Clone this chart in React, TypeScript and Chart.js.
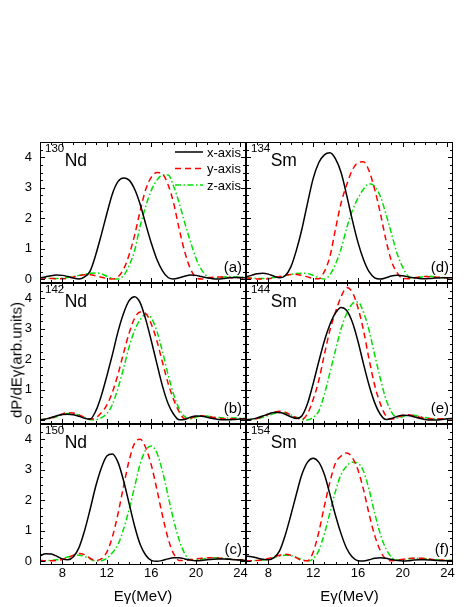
import React, { useEffect, useRef } from 'react';
import { Chart, registerables } from 'chart.js';

Chart.register(...registerables);

// ---------------- data ----------------
const energies = [6, 6.5, 7, 7.5, 8, 8.5, 9, 9.5, 10, 10.5, 11, 11.5, 12, 12.5, 13, 13.5, 14, 14.5, 15, 15.5, 16, 16.5, 17, 17.5, 18, 18.5, 19, 19.5, 20, 20.5, 21, 21.5, 22, 22.5, 23, 23.5, 24, 24.5];

const xTicks = [8, 12, 16, 20, 24];
const yTicks = [0, 1, 2, 3, 4];
const seriesNames = ['x-axis', 'y-axis', 'z-axis'];

// 130Nd (a)
const nd130X = [0.05, 0.08, 0.12, 0.14, 0.13, 0.09, 0.04, 0.01, 0.08, 0.27, 0.8, 1.45, 2.15, 2.8, 3.2, 3.32, 3.25, 2.95, 2.45, 1.8, 1.18, 0.65, 0.28, 0.06, 0.01, 0.05, 0.1, 0.14, 0.13, 0.09, 0.05, 0.02, 0.01, 0.03, 0.05, 0.06, 0.06, 0.05];
const nd130Y = [0.05, 0.04, 0.03, 0.02, 0.02, 0.04, 0.08, 0.12, 0.15, 0.15, 0.12, 0.07, 0.03, 0.01, 0.08, 0.33, 0.8, 1.45, 2.25, 2.95, 3.35, 3.5, 3.45, 3.1, 2.5, 1.65, 0.9, 0.35, 0.06, 0.01, 0.04, 0.07, 0.08, 0.07, 0.06, 0.05, 0.05, 0.04];
const nd130Z = [0.05, 0.04, 0.03, 0.03, 0.04, 0.06, 0.09, 0.13, 0.17, 0.2, 0.21, 0.18, 0.1, 0.03, 0.01, 0.12, 0.45, 0.95, 1.75, 2.4, 2.92, 3.25, 3.42, 3.42, 3.05, 2.5, 1.85, 1.25, 0.7, 0.32, 0.1, 0.04, 0.05, 0.08, 0.09, 0.08, 0.07, 0.06];

// 142Nd (b)
const nd142X = [0.01, 0.04, 0.09, 0.15, 0.19, 0.2, 0.18, 0.13, 0.07, 0.04, 0.3, 0.8, 1.45, 2.15, 2.9, 3.5, 3.92, 4.05, 3.85, 3.3, 2.6, 1.85, 1.12, 0.55, 0.2, 0.02, 0.03, 0.1, 0.14, 0.13, 0.1, 0.06, 0.03, 0.02, 0.02, 0.03, 0.04, 0.05];
const nd142Y = [0.02, 0.04, 0.08, 0.14, 0.21, 0.25, 0.24, 0.18, 0.1, 0.04, 0.08, 0.25, 0.5, 0.92, 1.5, 2.2, 2.85, 3.35, 3.55, 3.5, 3.15, 2.6, 1.9, 1.22, 0.68, 0.28, 0.05, 0.06, 0.13, 0.15, 0.13, 0.1, 0.07, 0.05, 0.05, 0.05, 0.05, 0.05];
const nd142Z = [0.02, 0.04, 0.07, 0.12, 0.18, 0.22, 0.22, 0.17, 0.09, 0.02, 0.02, 0.08, 0.22, 0.52, 1.05, 1.7, 2.4, 2.95, 3.3, 3.47, 3.35, 2.92, 2.25, 1.5, 0.85, 0.38, 0.12, 0.05, 0.1, 0.15, 0.14, 0.11, 0.09, 0.08, 0.08, 0.08, 0.07, 0.07];

// 150Nd (c)
const nd150X = [0.18, 0.25, 0.24, 0.17, 0.08, 0.05, 0.15, 0.45, 1.0, 1.7, 2.45, 3.05, 3.45, 3.52, 3.25, 2.65, 1.9, 1.15, 0.55, 0.2, 0.03, 0.0, 0.03, 0.08, 0.12, 0.12, 0.08, 0.04, 0.02, 0.03, 0.05, 0.07, 0.08, 0.08, 0.07, 0.05, 0.04, 0.03];
const nd150Y = [0.03, 0.02, 0.02, 0.03, 0.06, 0.12, 0.2, 0.26, 0.22, 0.1, 0.03, 0.08, 0.3, 0.8, 1.55, 2.45, 3.3, 3.88, 4.0, 3.72, 3.15, 2.35, 1.5, 0.75, 0.25, 0.03, 0.03, 0.06, 0.08, 0.1, 0.11, 0.12, 0.11, 0.09, 0.07, 0.06, 0.05, 0.05];
const nd150Z = [0.02, 0.02, 0.03, 0.05, 0.09, 0.14, 0.19, 0.2, 0.16, 0.08, 0.01, 0.02, 0.1, 0.28, 0.55, 1.05, 1.7, 2.45, 3.2, 3.65, 3.78, 3.55, 2.95, 2.15, 1.35, 0.7, 0.25, 0.05, 0.04, 0.07, 0.1, 0.12, 0.12, 0.1, 0.08, 0.06, 0.05, 0.05];

// 134Sm (d)
const sm134X = [0.08, 0.13, 0.18, 0.2, 0.17, 0.1, 0.05, 0.12, 0.4, 0.95, 1.65, 2.5, 3.3, 3.82, 4.08, 4.15, 3.95, 3.5, 2.75, 1.95, 1.22, 0.65, 0.25, 0.05, 0.01, 0.05, 0.11, 0.13, 0.12, 0.08, 0.05, 0.03, 0.02, 0.03, 0.04, 0.05, 0.05, 0.05];
const sm134Y = [0.05, 0.03, 0.01, 0.01, 0.02, 0.05, 0.09, 0.13, 0.16, 0.16, 0.13, 0.08, 0.03, 0.02, 0.25, 0.75, 1.65, 2.5, 3.1, 3.58, 3.82, 3.85, 3.55, 2.95, 2.18, 1.3, 0.6, 0.22, 0.03, 0.02, 0.05, 0.08, 0.09, 0.08, 0.07, 0.06, 0.05, 0.04];
const sm134Z = [0.05, 0.04, 0.03, 0.03, 0.04, 0.06, 0.09, 0.12, 0.16, 0.19, 0.2, 0.19, 0.13, 0.05, 0.01, 0.15, 0.5, 1.0, 1.68, 2.25, 2.65, 2.95, 3.13, 3.05, 2.72, 2.15, 1.5, 0.85, 0.4, 0.1, 0.03, 0.06, 0.1, 0.1, 0.08, 0.06, 0.05, 0.05];

// 144Sm (e)
const sm144X = [0.02, 0.04, 0.08, 0.14, 0.21, 0.26, 0.26, 0.2, 0.12, 0.06, 0.15, 0.55, 1.2, 1.92, 2.6, 3.14, 3.52, 3.7, 3.6, 3.22, 2.6, 1.85, 1.15, 0.58, 0.2, 0.03, 0.06, 0.13, 0.17, 0.16, 0.12, 0.07, 0.03, 0.01, 0.01, 0.03, 0.05, 0.06];
const sm144Y = [0.02, 0.03, 0.06, 0.12, 0.2, 0.27, 0.3, 0.27, 0.18, 0.08, 0.03, 0.22, 0.68, 1.3, 2.15, 2.95, 3.55, 4.05, 4.35, 4.2, 3.7, 2.95, 2.0, 1.15, 0.55, 0.15, 0.04, 0.09, 0.16, 0.18, 0.15, 0.1, 0.07, 0.05, 0.04, 0.05, 0.05, 0.05];
const sm144Z = [0.02, 0.03, 0.05, 0.1, 0.16, 0.22, 0.25, 0.24, 0.18, 0.1, 0.03, 0.01, 0.1, 0.3, 0.85, 1.56, 2.3, 3.0, 3.5, 3.82, 3.88, 3.55, 2.95, 2.15, 1.38, 0.7, 0.28, 0.08, 0.12, 0.18, 0.17, 0.13, 0.09, 0.06, 0.05, 0.05, 0.05, 0.05];

// 154Sm (f)
const sm154X = [0.17, 0.15, 0.11, 0.07, 0.05, 0.12, 0.34, 0.85, 1.5, 2.2, 2.85, 3.25, 3.38, 3.25, 2.85, 2.2, 1.5, 0.9, 0.42, 0.14, 0.02, 0.01, 0.05, 0.1, 0.12, 0.1, 0.06, 0.03, 0.01, 0.02, 0.04, 0.05, 0.05, 0.04, 0.03, 0.02, 0.02, 0.02];
const sm154Y = [0.02, 0.02, 0.03, 0.05, 0.09, 0.15, 0.2, 0.23, 0.2, 0.12, 0.03, 0.02, 0.3, 0.95, 1.8, 2.6, 3.22, 3.45, 3.55, 3.4, 3.0, 2.35, 1.55, 0.85, 0.35, 0.07, 0.02, 0.04, 0.07, 0.09, 0.1, 0.1, 0.09, 0.07, 0.05, 0.04, 0.03, 0.03];
const sm154Z = [0.02, 0.02, 0.03, 0.04, 0.07, 0.12, 0.17, 0.2, 0.19, 0.13, 0.06, 0.01, 0.08, 0.35, 0.9, 1.59, 2.3, 2.85, 3.12, 3.25, 3.22, 2.95, 2.35, 1.58, 0.9, 0.42, 0.14, 0.04, 0.05, 0.08, 0.1, 0.1, 0.09, 0.07, 0.05, 0.04, 0.03, 0.03];

// ---------------- layout / style ----------------
const W = 469;
const H = 607;
const COLS = [[40, 246], [246, 453]];
const ROWS = [[142, 283], [283, 424], [424, 565]];
const Y_AXIS_W = 40;
const X_AXIS_H = 42;
const X_MIN = 6;
const X_MAX = 24.5;
const Y_MIN = -0.12;
const Y_MAX = 4.5;
const FONT = '"Liberation Sans", Arial, Helvetica, sans-serif';

const STYLES = [
  { color: '#000000', dash: [] as number[] },
  { color: '#ff0000', dash: [6, 4] },
  { color: '#00e000', dash: [6, 2.5, 1.5, 2.5] },
];

type PanelDef = {
  tag: string; mass: string; el: string; col: number; row: number;
  series: number[][]; legend: boolean;
};

const panels: PanelDef[] = [
  { tag: '(a)', mass: '130', el: 'Nd', col: 0, row: 0, series: [nd130X, nd130Y, nd130Z], legend: true },
  { tag: '(b)', mass: '142', el: 'Nd', col: 0, row: 1, series: [nd142X, nd142Y, nd142Z], legend: false },
  { tag: '(c)', mass: '150', el: 'Nd', col: 0, row: 2, series: [nd150X, nd150Y, nd150Z], legend: false },
  { tag: '(d)', mass: '134', el: 'Sm', col: 1, row: 0, series: [sm134X, sm134Y, sm134Z], legend: false },
  { tag: '(e)', mass: '144', el: 'Sm', col: 1, row: 1, series: [sm144X, sm144Y, sm144Z], legend: false },
  { tag: '(f)', mass: '154', el: 'Sm', col: 1, row: 2, series: [sm154X, sm154Y, sm154Z], legend: false },
];

function makePlugin(p: PanelDef) {
  return {
    id: 'panelDecor',
    afterDraw(chart: any) {
      const { ctx, chartArea: a, scales } = chart;
      const xs = scales.x;
      const ys = scales.y;
      ctx.save();
      ctx.strokeStyle = '#000';
      ctx.lineWidth = 1;
      ctx.setLineDash([]);
      // frame
      ctx.strokeRect(a.left + 0.5, a.top + 0.5, a.right - a.left - 1, a.bottom - a.top - 1);
      // ticks on all four sides, pointing inward
      ctx.beginPath();
      for (let v = 6; v <= 24; v += 1) {
        const major = xTicks.includes(v);
        const len = major ? 5 : 3;
        const px = Math.round(xs.getPixelForValue(v)) + 0.5;
        ctx.moveTo(px, a.bottom);
        ctx.lineTo(px, a.bottom - len);
        ctx.moveTo(px, a.top);
        ctx.lineTo(px, a.top + len);
      }
      for (let i = 0; i <= 18; i++) {
        const v = i * 0.25;
        const major = Math.abs(v - Math.round(v)) < 1e-6;
        const len = major ? 5 : 3;
        const py = Math.round(ys.getPixelForValue(v)) + 0.5;
        ctx.moveTo(a.left, py);
        ctx.lineTo(a.left + len, py);
        ctx.moveTo(a.right, py);
        ctx.lineTo(a.right - len, py);
      }
      ctx.stroke();

      // nucleus label with superscript mass number
      ctx.fillStyle = '#000';
      ctx.textBaseline = 'alphabetic';
      ctx.textAlign = 'left';
      ctx.font = `11.5px ${FONT}`;
      const sx = a.left + 5;
      ctx.fillText(p.mass, sx, a.top + 9.5);
      const mw = ctx.measureText(p.mass).width;
      ctx.font = `17.5px ${FONT}`;
      ctx.fillText(p.el, sx + mw + 0.5, a.top + 23.5);

      // panel tag
      ctx.font = `15px ${FONT}`;
      ctx.textAlign = 'right';
      ctx.fillText(p.tag, a.right - 4, a.bottom - 11);

      // legend
      if (p.legend) {
        const rowsY = [a.top + 10, a.top + 26.5, a.top + 43];
        for (let i = 0; i < 3; i++) {
          const st = STYLES[i];
          ctx.beginPath();
          ctx.strokeStyle = st.color;
          ctx.lineWidth = 1.5;
          ctx.setLineDash(st.dash);
          ctx.moveTo(175, rowsY[i]);
          ctx.lineTo(203, rowsY[i]);
          ctx.stroke();
          ctx.setLineDash([]);
          ctx.fillStyle = '#000';
          ctx.textAlign = 'left';
          ctx.font = `13px ${FONT}`;
          ctx.fillText(seriesNames[i], 207, rowsY[i] + 4.5);
        }
      }
      ctx.restore();
    },
  };
}

function Panel({ p }: { p: PanelDef }) {
  const ref = useRef<HTMLCanvasElement | null>(null);
  useEffect(() => {
    if (!ref.current) return;
    const [cl, cr] = COLS[p.col];
    const [rt, rb] = ROWS[p.row];
    const leftCol = p.col === 0;
    const bottomRow = p.row === 2;
    const chart = new Chart(ref.current, {
      type: 'line',
      data: {
        datasets: p.series.map((vals, i) => ({
          label: seriesNames[i],
          data: energies.map((e, k) => ({ x: e, y: vals[k] })),
          borderColor: STYLES[i].color,
          borderDash: STYLES[i].dash,
          borderWidth: 1.5,
          pointRadius: 0,
          fill: false,
          cubicInterpolationMode: 'monotone' as const,
        })),
      },
      options: {
        responsive: false,
        animation: false,
        devicePixelRatio: 1,
        events: [],
        layout: {
          padding: {
            left: cl - Y_AXIS_W,
            right: W - cr,
            top: rt,
            bottom: H - rb - X_AXIS_H,
          },
        },
        plugins: { legend: { display: false }, tooltip: { enabled: false }, title: { display: false } },
        scales: {
          x: {
            type: 'linear',
            min: X_MIN,
            max: X_MAX,
            afterBuildTicks: (s: any) => { s.ticks = xTicks.map((v) => ({ value: v })); },
            afterFit: (s: any) => { s.height = X_AXIS_H; },
            grid: { display: false, drawTicks: false },
            border: { display: false },
            ticks: {
              display: bottomRow,
              padding: 1,
              autoSkip: false,
              maxRotation: 0,
              color: '#000',
              font: { family: FONT, size: 13 },
              callback: (v: any) => String(v),
            },
            title: {
              display: bottomRow,
              text: 'Eγ(MeV)',
              color: '#000',
              font: { family: FONT, size: 15 },
              padding: { top: 0, bottom: 1 },
            },
          },
          y: {
            type: 'linear',
            min: Y_MIN,
            max: Y_MAX,
            afterBuildTicks: (s: any) => { s.ticks = yTicks.map((v) => ({ value: v })); },
            afterFit: (s: any) => { s.width = Y_AXIS_W; },
            grid: { display: false, drawTicks: false },
            border: { display: false },
            ticks: {
              display: leftCol,
              padding: 8,
              color: '#000',
              font: { family: FONT, size: 13 },
              callback: (v: any) => String(v),
            },
          },
        },
      },
      plugins: [makePlugin(p)],
    } as any);
    return () => chart.destroy();
  }, [p]);
  return (
    <canvas
      ref={ref}
      width={W}
      height={H}
      style={{ position: 'absolute', left: 0, top: 0, width: W, height: H }}
    />
  );
}

export default function App() {
  return (
    <div style={{ position: 'absolute', left: 0, top: 0, width: W, height: H, background: '#fff', overflow: 'hidden' }}>
      {panels.map((p) => (
        <Panel key={p.tag} p={p} />
      ))}
      <div
        style={{
          position: 'absolute',
          left: 16,
          top: 360,
          transform: 'translate(-50%, -50%) rotate(-90deg)',
          whiteSpace: 'nowrap',
          font: `15px ${FONT}`,
          lineHeight: '1',
          color: '#000',
        }}
      >
        dP/dEγ(arb.units)
      </div>
    </div>
  );
}
